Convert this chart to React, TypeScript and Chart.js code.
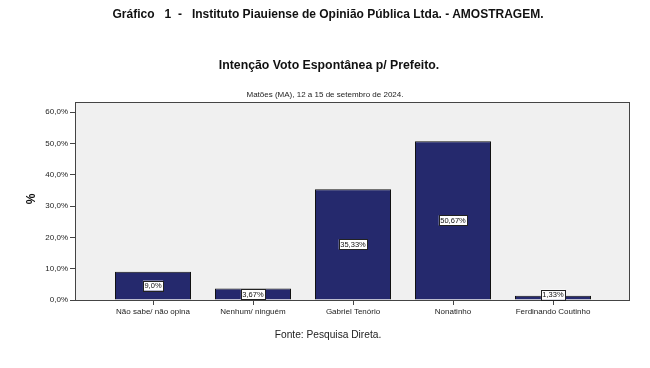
import React, { useEffect, useRef } from "react";
import { Chart, registerables } from "chart.js";

Chart.register(...registerables);

const categories = ["Não sabe/ não opina", "Nenhum/ ninguém", "Gabriel Tenório", "Nonatinho", "Ferdinando Coutinho"];
const values = [9.0, 3.67, 35.33, 50.67, 1.33];
const valueLabels = ["9,0%", "3,67%", "35,33%", "50,67%", "1,33%"];
const yTicks = [0, 10, 20, 30, 40, 50, 60];
const yTickLabels = ["0,0%", "10,0%", "20,0%", "30,0%", "40,0%", "50,0%", "60,0%"];

const FONT = "'Liberation Sans', Arial, sans-serif";

export default function App() {
  const ref = useRef<HTMLCanvasElement>(null);

  useEffect(() => {
    const canvas = ref.current;
    if (!canvas) return;

    const frame = {
      id: "frame",
      beforeDatasetsDraw(chart: any) {
        const { ctx, chartArea: a } = chart;
        ctx.save();
        ctx.fillStyle = "#f0f0f0";
        ctx.fillRect(a.left, a.top, a.right - a.left, a.bottom - a.top);
        ctx.strokeStyle = "#444";
        ctx.lineWidth = 1;
        ctx.strokeRect(a.left + 0.5, a.top + 0.5, a.right - a.left - 1, a.bottom - a.top);
        ctx.restore();
      },
    };

    const labels = {
      id: "valueLabels",
      afterDatasetsDraw(chart: any) {
        const { ctx } = chart;
        const meta = chart.getDatasetMeta(0);
        ctx.save();
        ctx.font = `7.5px ${FONT}`;
        ctx.textAlign = "center";
        ctx.textBaseline = "middle";
        meta.data.forEach((bar: any, i: number) => {
          const txt = valueLabels[i];
          const cx = bar.x;
          const cy = Math.min((bar.y + bar.base) / 2, bar.base - 5);
          const w = ctx.measureText(txt).width + 3;
          const h = 10;
          ctx.fillStyle = "#fff";
          ctx.fillRect(cx - w / 2, cy - h / 2, w, h);
          ctx.strokeStyle = "#222";
          ctx.lineWidth = 1;
          ctx.strokeRect(Math.round(cx - w / 2) + 0.5, Math.round(cy - h / 2) + 0.5, Math.round(w), h);
          ctx.fillStyle = "#111";
          ctx.fillText(txt, cx, cy + 0.5);
        });
        ctx.restore();
      },
    };

    const chart = new Chart(canvas, {
      type: "bar",
      data: {
        datasets: [
          {
            data: values.map((v, i) => ({ x: i, y: v })),
            backgroundColor: "#25296d",
            borderColor: "#111",
            borderWidth: 1,
            barPercentage: 0.76,
            categoryPercentage: 1,
          },
        ],
      },
      options: {
        responsive: false,
        animation: false,
        layout: { padding: { left: 0, right: 20, top: 102, bottom: 43 } },
        plugins: { legend: { display: false }, tooltip: { enabled: false } },
        scales: {
          x: {
            type: "linear",
            offset: false,
            min: -0.78,
            max: 4.77,
            afterBuildTicks: (s: any) => {
              s.ticks = categories.map((_, i) => ({ value: i }));
            },
            afterFit: (s: any) => {
              s.height = 25;
            },
            grid: { offset: false, drawOnChartArea: false, drawTicks: true, tickLength: 5, color: "#444" },
            border: { display: false },
            ticks: {
              autoSkip: false,
              maxRotation: 0,
              padding: 2,
              color: "#222",
              font: { family: FONT, size: 8 },
              callback: (v: any) => categories[v as number] ?? "",
            },
          },
          y: {
            min: 0,
            max: 63.2,
            afterBuildTicks: (s: any) => {
              s.ticks = yTicks.map((v) => ({ value: v }));
            },
            afterFit: (s: any) => {
              s.width = 75;
            },
            grid: { drawOnChartArea: false, drawTicks: true, tickLength: 5, color: "#444" },
            border: { display: false },
            ticks: {
              padding: 2,
              color: "#222",
              font: { family: FONT, size: 8 },
              callback: (v: any) => yTickLabels[yTicks.indexOf(v as number)] ?? "",
            },
          },
        },
      },
      plugins: [frame, labels],
    });

    return () => chart.destroy();
  }, []);

  const abs: React.CSSProperties = {
    position: "absolute",
    left: 0,
    width: 650,
    textAlign: "center",
    fontFamily: FONT,
    color: "#111",
    whiteSpace: "pre",
    lineHeight: 1,
  };

  return (
    <div style={{ position: "fixed", left: 0, top: 0, width: 650, height: 368, background: "#fff", overflow: "hidden" }}>
      <canvas ref={ref} width={650} height={368} style={{ position: "absolute", left: 0, top: 0, width: 650, height: 368 }} />
      <div style={{ ...abs, top: 8, left: 3, fontSize: 12, fontWeight: "bold" }}>
        {"Gráfico   1  -   Instituto Piauiense de Opinião Pública Ltda. - AMOSTRAGEM."}
      </div>
      <div style={{ ...abs, top: 59, left: 4, fontSize: 12.3, fontWeight: "bold" }}>Intenção Voto Espontânea p/ Prefeito.</div>
      <div style={{ ...abs, top: 91, left: 0, fontSize: 8, color: "#222" }}>Matões (MA), 12 a 15 de setembro de 2024.</div>
      <div style={{ ...abs, top: 330, left: 3, fontSize: 10.2, color: "#222" }}>Fonte: Pesquisa Direta.</div>
      <div
        style={{
          position: "absolute",
          left: 24,
          top: 193,
          width: 14,
          textAlign: "center",
          fontFamily: FONT,
          fontSize: 12,
          fontWeight: "bold",
          color: "#111",
          transform: "rotate(-90deg)",
          lineHeight: 1,
        }}
      >
        %
      </div>
    </div>
  );
}
